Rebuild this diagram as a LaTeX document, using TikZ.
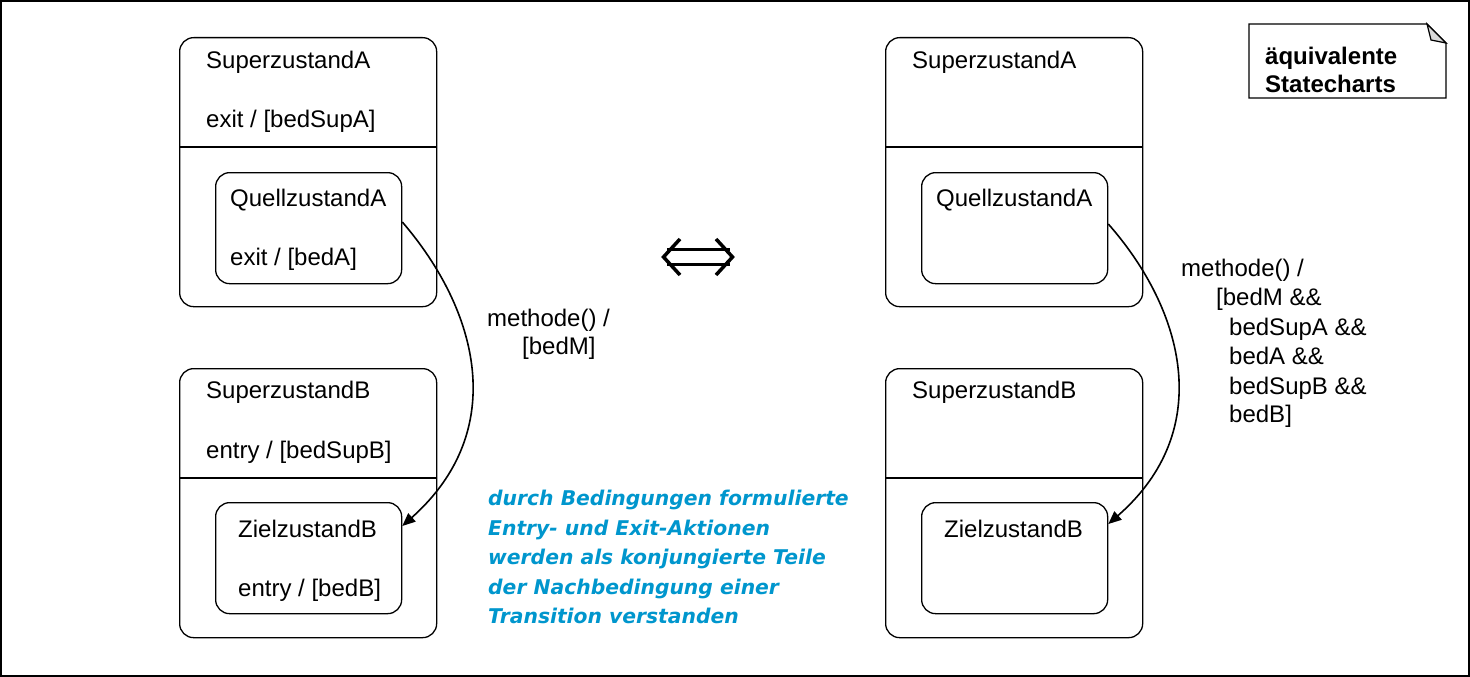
\documentclass[tikz,border=0pt]{standalone}
\usepackage{fontspec}
\setmainfont{Liberation Sans}
\newfontfamily\bluefont{DejaVu Sans}
\usetikzlibrary{arrows.meta}
\definecolor{blueT}{RGB}{0,150,205}
\begin{document}
\begin{tikzpicture}[x=1pt,y=-1pt,
  supbox/.style={draw, line width=1.3pt, rounded corners=14pt, minimum width=257pt, minimum height=269pt, anchor=north west, inner sep=0pt},
  subbox/.style={draw, line width=1.3pt, rounded corners=14pt, minimum width=186pt, minimum height=111pt, anchor=north west, inner sep=0pt},
  lbl/.style={anchor=base west, inner sep=0pt, font=\fontsize{24}{28}\selectfont},
  bluelbl/.style={anchor=base west, inner sep=0pt, text=blueT, font=\bluefont\bfseries\itshape\fontsize{20.3}{28}\selectfont},
  notelbl/.style={anchor=base west, inner sep=0pt, font=\bfseries\fontsize{24}{28}\selectfont},
  divider/.style={line width=1.3pt},
  trans/.style={line width=1.6pt, -{Triangle[length=13pt,width=11pt]}},
  dbl/.style={line width=3.5pt}
]
\useasboundingbox (0,0) rectangle (1470,677);
\draw[line width=1.3pt] (1,1) rectangle (1469,676);

% ---- left side ----
\node[supbox] (saL) at (179,37) {};
\draw[divider] (saL.west |- 0,147) -- (saL.east |- 0,147);
\node[lbl] (saLt) at (206,68.5) {SuperzustandA};
\node[lbl] (saLe) at (206,127.5) {exit / [bedSupA]};
\node[subbox] (qaL) at (215,172) {};
\node[lbl] (qaLt) at (230,206.5) {QuellzustandA};
\node[lbl] (qaLe) at (230,265.5) {exit / [bedA]};

\node[supbox] (sbL) at (179,368) {};
\draw[divider] (sbL.west |- 0,478) -- (sbL.east |- 0,478);
\node[lbl] (sbLt) at (206,398.5) {SuperzustandB};
\node[lbl] (sbLe) at (206,458.5) {entry / [bedSupB]};
\node[subbox] (zbL) at (215,502) {};
\node[lbl] (zbLt) at (238,537.5) {ZielzustandB};
\node[lbl] (zbLe) at (238,596.5) {entry / [bedB]};

\draw[trans] ([yshift=-50pt]qaL.north east) .. controls (478,310) and (510,430) .. ([yshift=-24pt]zbL.north east);
\node[lbl] (mL1) at (487,326.5) {methode() /};
\node[lbl] (mL2) at (522,354.5) {[bedM]};

% ---- double arrow ----
\draw[dbl] (667,249.5) -- (730,249.5);
\draw[dbl] (667,264.5) -- (730,264.5);
\draw[dbl] (680,239) -- (663.5,257) -- (680,275);
\draw[dbl] (716,239) -- (732.5,257) -- (716,275);

% ---- right side ----
\node[supbox] (saR) at (885,37) {};
\draw[divider] (saR.west |- 0,147) -- (saR.east |- 0,147);
\node[lbl] (saRt) at (912,68.5) {SuperzustandA};
\node[subbox] (qaR) at (921,172) {};
\node[lbl] (qaRt) at (936,206.5) {QuellzustandA};

\node[supbox] (sbR) at (885,368) {};
\draw[divider] (sbR.west |- 0,478) -- (sbR.east |- 0,478);
\node[lbl] (sbRt) at (912,398.5) {SuperzustandB};
\node[subbox] (zbR) at (921,502) {};
\node[lbl] (zbRt) at (944,537.5) {ZielzustandB};

\draw[trans] ([yshift=-52pt]qaR.north east) .. controls (1184,310) and (1216,430) .. ([yshift=-22pt]zbR.north east);
\node[lbl] (mR1) at (1181,276.5) {methode() /};
\node[lbl] (mR2) at (1216,305.5) {[bedM \&\&};
\node[lbl] (mR3) at (1229,335.5) {bedSupA \&\&};
\node[lbl] (mR4) at (1229,364.5) {bedA \&\&};
\node[lbl] (mR5) at (1229,394.5) {bedSupB \&\&};
\node[lbl] (mR6) at (1229,422.5) {bedB]};

% ---- note ----
\draw[line width=1.3pt] (1249,24) -- (1427,24) -- (1446,43) -- (1446,98) -- (1249,98) -- cycle;
\draw[line width=1.2pt, fill=gray!30] (1427,24) -- (1446,43) -- (1431,40) -- cycle;
\node[notelbl] (n1) at (1265,65) {äquivalente};
\node[notelbl] (n2) at (1265,92.5) {Statecharts};

% ---- blue text ----
\node[bluelbl] (b1) at (488,505) {durch Bedingungen formulierte};
\node[bluelbl] (b2) at (488,535) {Entry- und Exit-Aktionen};
\node[bluelbl] (b3) at (488,564) {werden als konjungierte Teile};
\node[bluelbl] (b4) at (488,594) {der Nachbedingung einer};
\node[bluelbl] (b5) at (488,623) {Transition verstanden};
\end{tikzpicture}
\end{document}
